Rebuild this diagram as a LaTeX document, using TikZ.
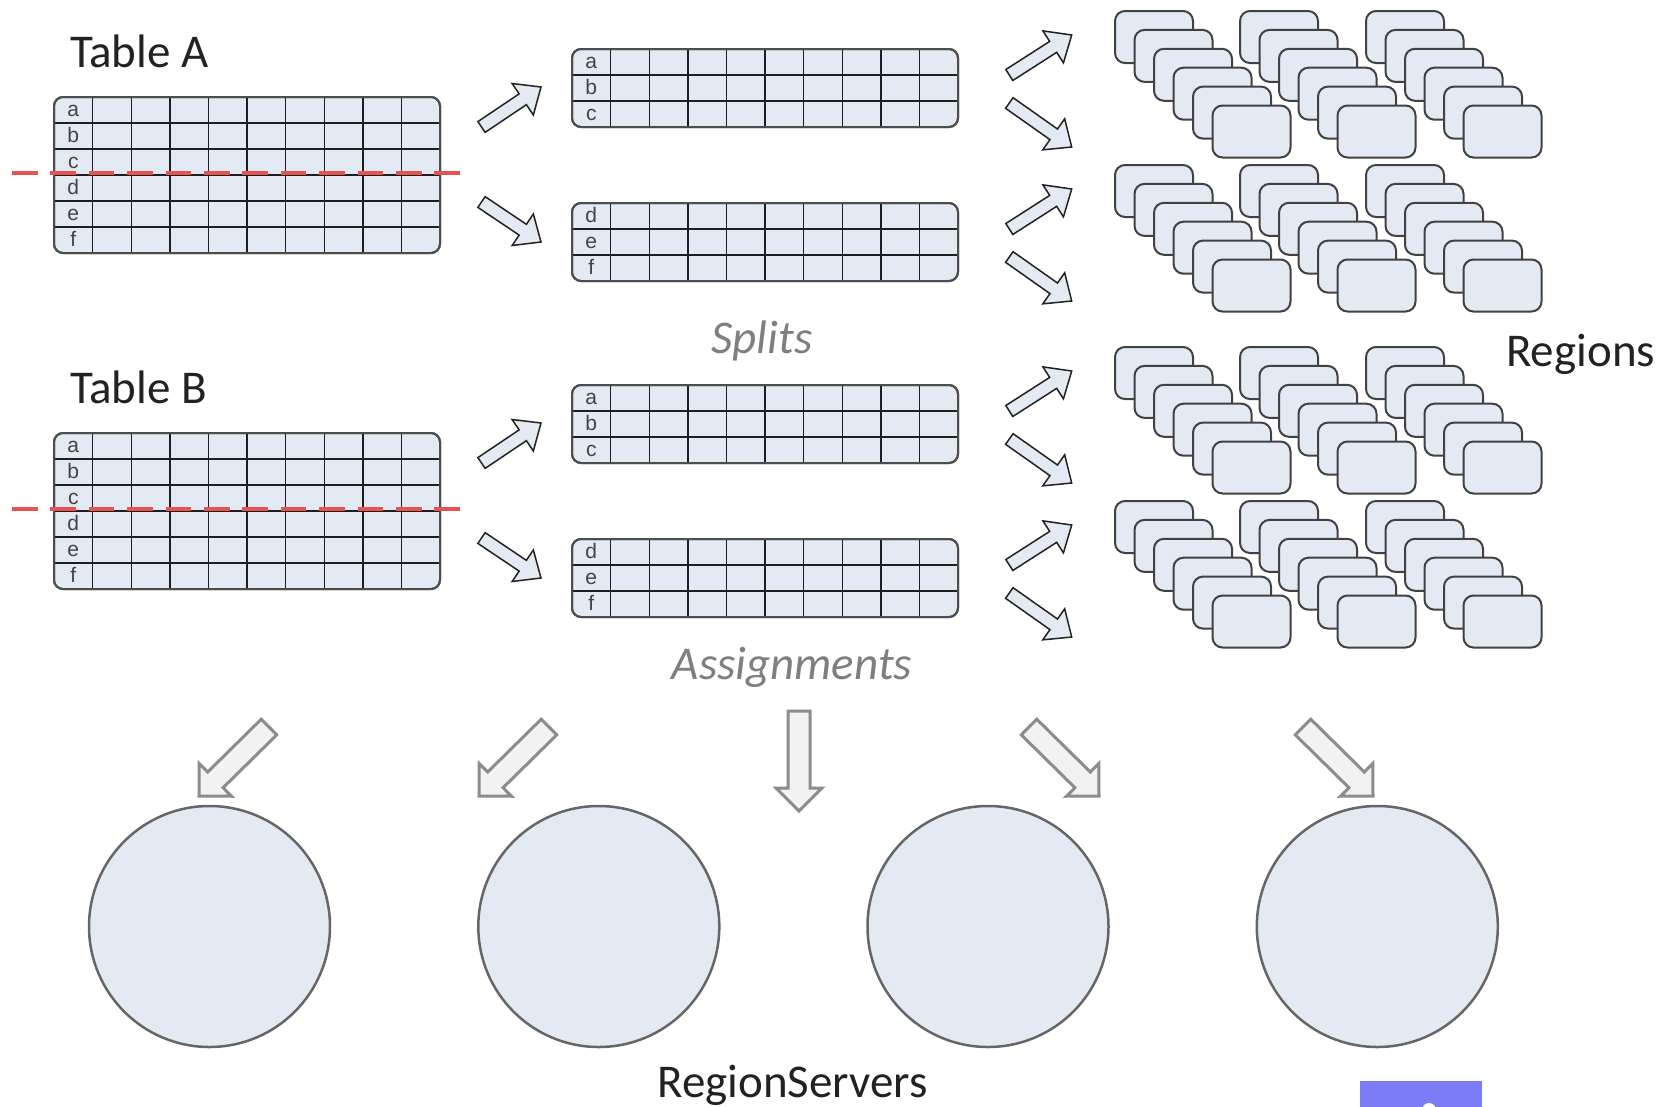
\documentclass[tikz,border=0pt]{standalone}
\usepackage{fontspec}
\setmainfont{Carlito}
\newfontfamily\cellfont{Liberation Sans}
\usetikzlibrary{calc}

\definecolor{paleblue}{HTML}{E3EAF4}
\definecolor{gridink}{HTML}{1E1E1E}
\definecolor{frameink}{HTML}{4D4D4D}
\definecolor{cutred}{HTML}{E8534F}
\definecolor{arrowfill}{HTML}{F2F2F2}
\definecolor{arrowink}{HTML}{8C8C8C}
\definecolor{captiongray}{HTML}{7F7F7F}
\definecolor{textink}{HTML}{222222}
\definecolor{serverink}{HTML}{666666}
\definecolor{badgeblue}{RGB}{124,124,246}

\tikzset{
  tablebox/.style={draw=frameink, fill=paleblue, line width=2pt, rounded corners=9pt,
    inner sep=0pt, outer sep=0pt, anchor=north west, minimum width=386pt},
  gridline/.style={draw=gridink, line width=1.4pt},
  rowlabel/.style={font=\cellfont\fontsize{21}{21}\selectfont, text=textink!85, anchor=base, inner sep=0pt},
  cutline/.style={draw=cutred, line width=3.5pt, dash pattern=on 25.5pt off 12.9pt},
  smallarrow/.style={fill=paleblue, draw=textink, line width=1.5pt, line join=miter},
  bigarrow/.style={fill=arrowfill, draw=arrowink, line width=3pt, line join=miter},
  regioncard/.style={fill=paleblue, draw=frameink!85!black, line width=2pt, rounded corners=10pt},
  server/.style={circle, draw=serverink, fill=paleblue, line width=2.5pt,
    minimum size=241pt, inner sep=0pt, outer sep=0pt},
  title/.style={font=\fontsize{47}{56}\selectfont, text=textink, inner sep=0pt},
  caption/.style={font=\itshape\fontsize{47}{56}\selectfont, text=captiongray, inner sep=0pt},
}

% table with a label column and nine data columns
% #1 name, #2 left, #3 top, #4 number of rows, #5 row labels
\newcommand{\datatable}[5]{%
  \node[tablebox, minimum height={#4*26pt}] (#1) at (#2,#3) {};
  \begin{scope}
    \clip[rounded corners=9pt] (#1.north west) rectangle (#1.south east);
    \foreach \k in {1,...,9} {\draw[gridline] ({#2+\k*38.6},#3) -- ++(0,{#4*26});}
    \pgfmathtruncatemacro\lastrow{#4-1}
    \foreach \k in {1,...,\lastrow} {\draw[gridline] (#2,{#3+\k*26}) -- ++(386,0);}
  \end{scope}
  \draw[frameink, line width=2pt, rounded corners=9pt] (#1.north west) rectangle (#1.south east);
  \foreach \l [count=\i] in {#5} {\node[rowlabel] (#1-\l) at ({#2+19.3},{#3+\i*26-7}) {\l};}
}

% block arrow from a tail coordinate to a tip coordinate
% #1 style, #2 tail, #3 tip, #4 half shaft width, #5 half head width, #6 head length
\newcommand{\blockarrow}[6]{%
  \coordinate (neck) at ($(#3)!#6!(#2)$);
  \draw[#1] ($(#2)!#4!90:(#3)$) -- ($(neck)!#4!-90:(#2)$) -- ($(neck)!#5!-90:(#2)$)
    -- (#3) -- ($(neck)!#5!90:(#2)$) -- ($(neck)!#4!90:(#2)$) -- ($(#2)!#4!-90:(#3)$) -- cycle;
}

% a stack of six region cards, back card at (#1,#2)
\newcommand{\regionstack}[2]{%
  \foreach \k in {0,...,5}
    {\draw[regioncard] ({#1+19.5*\k},{#2+18.9*\k}) rectangle ++(78,52);}
}

\begin{document}
\begin{tikzpicture}[x=1pt,y=-1pt]
\useasboundingbox (0,0) rectangle (1675,1106);

% source tables
\node[title, anchor=base west] (labelA) at (70,67) {Table A};
\node[title, anchor=base west] (labelB) at (70,403) {Table B};
\datatable{tabA}{54}{97}{6}{a,b,c,d,e,f}
\datatable{tabB}{54}{433}{6}{a,b,c,d,e,f}

% split lines
\coordinate (cutA-w) at (12,173);  \coordinate (cutA-e) at (460,173);
\coordinate (cutB-w) at (12,509);  \coordinate (cutB-e) at (460,509);
\draw[cutline] (cutA-w) -- (cutA-e);
\draw[cutline] (cutB-w) -- (cutB-e);

% split halves
\datatable{splitA1}{572}{49}{3}{a,b,c}
\datatable{splitA2}{572}{203}{3}{d,e,f}
\datatable{splitB1}{572}{385}{3}{a,b,c}
\datatable{splitB2}{572}{539}{3}{d,e,f}
\node[caption, anchor=base] (splits) at (762,353) {Splits};

% arrows from tables to their halves
\foreach \t/\off in {A/0,B/336}{
  \coordinate (\t-up-tail) at (481.5,{127+\off});
  \coordinate (\t-up-tip) at (541,{87+\off});
  \coordinate (\t-dn-tail) at (481.5,{202+\off});
  \coordinate (\t-dn-tip) at (541,{242+\off});
  \blockarrow{smallarrow}{\t-up-tail}{\t-up-tip}{6.5pt}{19pt}{22pt}
  \blockarrow{smallarrow}{\t-dn-tail}{\t-dn-tip}{6.5pt}{19pt}{22pt}
}

% arrows from halves to regions
\foreach \s/\c in {1/88,2/242,3/424,4/578}{
  \coordinate (r\s-up-tail) at (1009.3,{\c-13});
  \coordinate (r\s-up-tip) at (1071.7,{\c-53});
  \coordinate (r\s-dn-tail) at (1009.3,{\c+15});
  \coordinate (r\s-dn-tip) at (1071.7,{\c+59});
  \blockarrow{smallarrow}{r\s-up-tail}{r\s-up-tip}{6.5pt}{19pt}{22pt}
  \blockarrow{smallarrow}{r\s-dn-tail}{r\s-dn-tip}{6.5pt}{19pt}{22pt}
}

% regions
\foreach \y in {11,165,347,501}{
  \foreach \x in {1115,1240,1366}{
    \regionstack{\x}{\y}
  }
}
\node[title, anchor=base west] (regions) at (1506,366) {Regions};

% assignments to region servers
\node[caption, anchor=base] (assign) at (792,679) {Assignments};
\coordinate (as1-tail) at (269,727);   \coordinate (as1-tip) at (199,796);
\coordinate (as2-tail) at (549,727);   \coordinate (as2-tip) at (479,796);
\coordinate (as3-tail) at (799,711);   \coordinate (as3-tip) at (799,811);
\coordinate (as4-tail) at (1029,727);  \coordinate (as4-tip) at (1099,796);
\coordinate (as5-tail) at (1303,727);  \coordinate (as5-tip) at (1373,796);
\foreach \i in {1,...,5}{
  \blockarrow{bigarrow}{as\i-tail}{as\i-tip}{11pt}{23pt}{23pt}
}

% region servers
\node[server] (rs1) at (209.5,926.5) {};
\node[server] (rs2) at (598.8,926.5) {};
\node[server] (rs3) at (988,926.5) {};
\node[server] (rs4) at (1377.3,926.5) {};
\node[title, anchor=base] (servers) at (792.5,1097) {RegionServers};

% corner badge
\fill[badgeblue] (1360,1081) rectangle (1482,1112);
\fill[white] (1429,1110) circle (7);
\end{tikzpicture}
\end{document}
